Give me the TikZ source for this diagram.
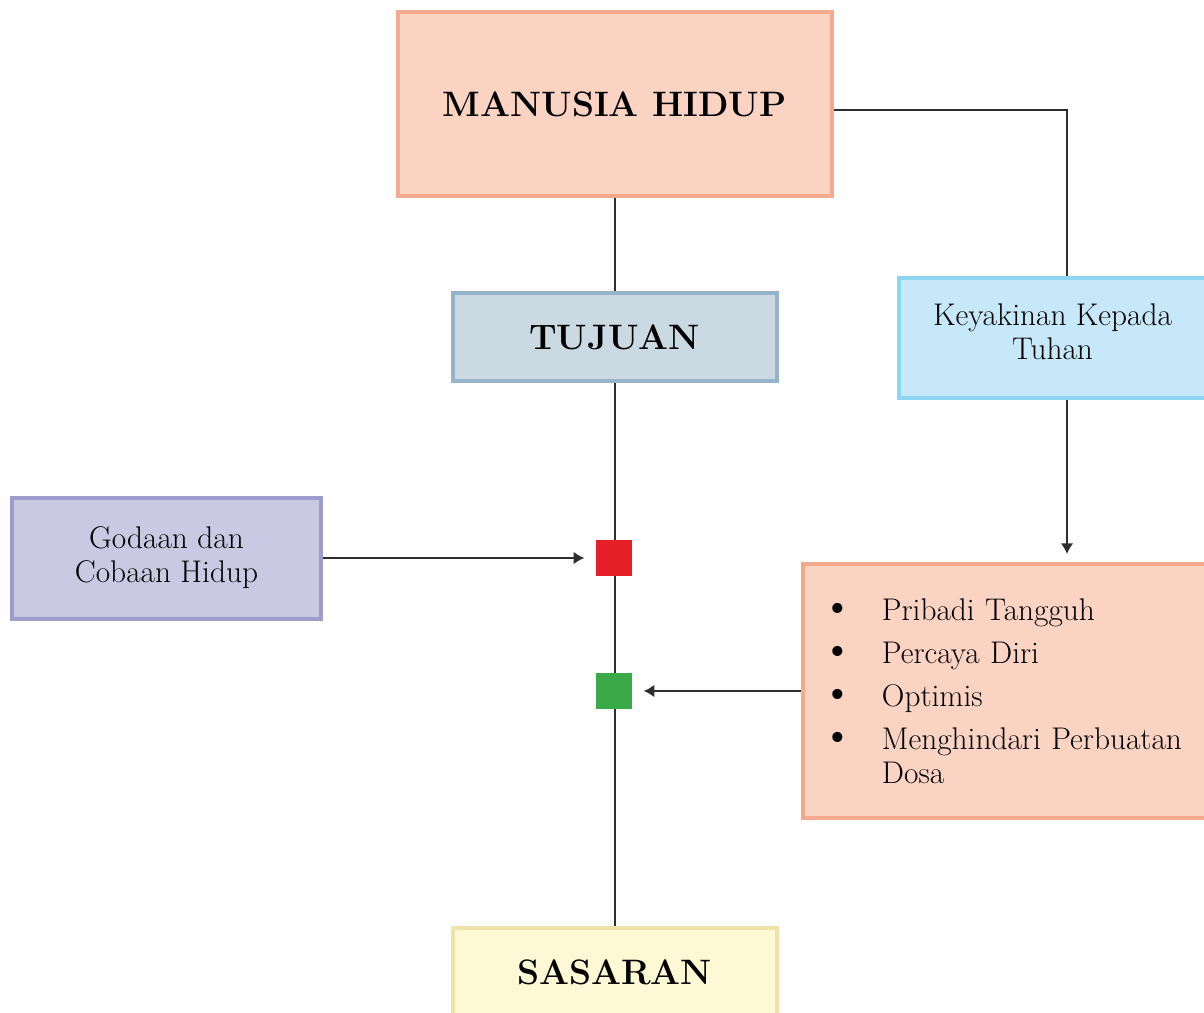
\documentclass[tikz,border=0pt]{standalone}
\usepackage{xcolor}
\usepackage{tikz}
\usetikzlibrary{arrows, arrows.meta, shapes}

\definecolor{SalmonFill}{HTML}{FAD3C2}
\definecolor{SalmonLine}{HTML}{F3A98E}
\definecolor{SteelFill}{HTML}{CBD9E3}
\definecolor{SteelLine}{HTML}{95B3CA}
\definecolor{SkyFill}{HTML}{C6E8F8}
\definecolor{SkyLine}{HTML}{8ED5F2}
\definecolor{LilacFill}{HTML}{C9C9E3}
\definecolor{LilacLine}{HTML}{9D9CCC}
\definecolor{CreamFill}{HTML}{FEF8D4}
\definecolor{CreamLine}{HTML}{EFE3A9}
\definecolor{MarkRed}{HTML}{E51F28}
\definecolor{MarkGreen}{HTML}{3AAA49}
\definecolor{Wire}{HTML}{2E2E2E}

\newcommand{\bigtext}{\fontsize{26.5}{31}\selectfont\bfseries}
\newcommand{\smalltext}{\fontsize{23.5}{25.5}\selectfont}
\newcommand{\bulletitem}{\makebox[45pt][l]{{\fontsize{34}{0}\selectfont\textbullet}}}

\begin{document}
\begin{tikzpicture}[x=0.75pt, y=-0.75pt,
  heading/.style={rectangle, line width=3pt, font=\bigtext, text=black,
    inner sep=0pt},
  %
  human/.style={heading, draw=SalmonLine, fill=SalmonFill,
    minimum width=325.5pt, minimum height=138pt},
  %
  goal/.style={heading, draw=SteelLine, fill=SteelFill,
    minimum width=243pt, minimum height=66pt},
  %
  target/.style={heading, draw=CreamLine, fill=CreamFill,
    minimum width=243pt, minimum height=66pt},
  %
  side/.style={rectangle, line width=3pt, font=\smalltext, text=black,
    align=center, inner sep=0pt},
  %
  marker/.style={rectangle, minimum size=27pt, inner sep=0pt}
  ]

  \useasboundingbox (0,0) rectangle (1204,1013);
  \clip (0,0) rectangle (1204,1013);
  \fill [white] (0,0) rectangle (1204,1013);

  \begin{scope}
    \node [human] (manusia) at (614.5,104) {MANUSIA HIDUP};
    \node [goal] (tujuan) at (614.5,337) {TUJUAN};
    \node [target] (sasaran) at (614.5,972) {SASARAN};
    \node [side, draw=SkyLine, fill=SkyFill, minimum width=230.25pt,
      minimum height=90pt,
      label={[side, yshift=4.5pt]center:Keyakinan Kepada\\Tuhan}]
      (keyakinan) at (1052.5,338) {};
    \node [side, draw=LilacLine, fill=LilacFill, minimum width=231.75pt,
      minimum height=90.75pt] (godaan) at (166.5,558)
      {Godaan dan\\Cobaan Hidup};
    \node [side, draw=SalmonLine, fill=SalmonFill, align=left,
      text width=290pt, inner xsep=14.25pt, minimum height=190.5pt]
      (sikap) at (1015.3,691) {%
      \bulletitem Pribadi Tangguh\\[6.75pt]
      \bulletitem Percaya Diri\\[6.75pt]
      \bulletitem Optimis\\[6.75pt]
      \bulletitem Menghindari Perbuatan\\
      \hspace*{45pt}Dosa};
  \end{scope}

  \begin{scope}[line width=1.5pt, draw=Wire, >={Latex[length=8pt, width=9.5pt]}]
    \draw (manusia) -- (tujuan);
    \draw (tujuan) -- (sasaran);
    \node [marker, fill=MarkRed] (godaanmark) at (614,558) {};
    \node [marker, fill=MarkGreen] (sikapmark) at (614,691) {};
    \draw ([yshift=-4.5pt]manusia.east) -| ([xshift=10.9pt]keyakinan.north);
    \draw [->, shorten >=6pt] ([xshift=10.9pt]keyakinan.south)
      -- ([xshift=10.9pt]keyakinan.south |- sikap.north);
    \draw [->, shorten >=8pt] (godaan.east) -- (godaanmark.west);
    \draw [->, shorten >=8pt] (sikap.west) -- (sikapmark.east);
  \end{scope}

\end{tikzpicture}
\end{document}
